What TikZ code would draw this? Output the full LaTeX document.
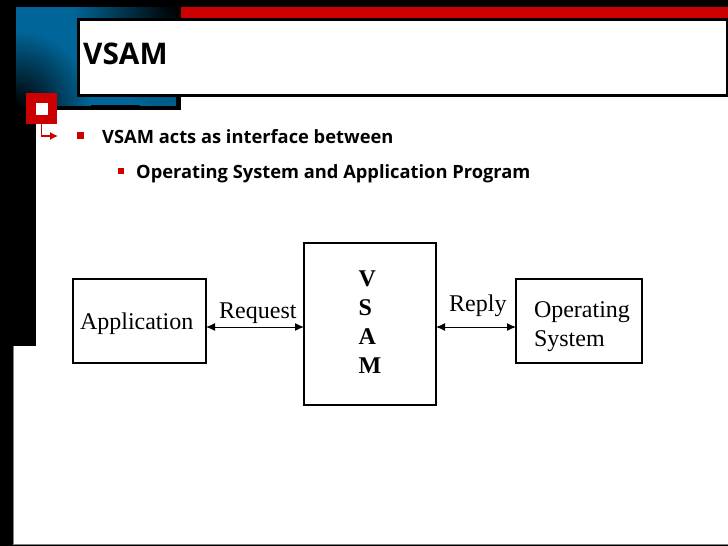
\documentclass[tikz,border=0pt]{standalone}
\usepackage{fontspec}
\setmainfont{Liberation Serif}
\newfontfamily\slidefont{Open Sans}
\usetikzlibrary{arrows.meta}
\definecolor{slidered}{HTML}{CC0000}
\definecolor{slideblue}{HTML}{006699}
\begin{document}
\begin{tikzpicture}[x=1pt, y=-1pt, >={Latex[length=9pt,width=8pt]}]
    \tikzstyle{block}=[draw, line width=1.2pt, outer sep=0pt, fill=white, minimum height=84pt, font=\fontsize{24}{29}\selectfont, align=left]
    \tikzstyle{edgetext}=[anchor=base west, inner sep=0pt, font=\fontsize{24}{29}\selectfont]
    \tikzstyle{bullettext}=[anchor=base west, inner sep=0pt, font=\slidefont\bfseries\fontsize{18.3}{20}\selectfont]
    \tikzstyle{bulletmark}=[fill=slidered, inner sep=0pt, minimum size=7pt]
    % slide background
    \useasboundingbox (0,0) rectangle (728,546);
    \fill[black] (0,0) rectangle (728,546);
    \fill[white] (181,97) -- (728,97) -- (728,544) -- (13,544) -- (13,346) -- (36,346) -- (36,110) -- (181,110) -- cycle;
    \draw[gray, line width=1pt] (13,346) -- (13,544) -- (728,544);
    \begin{scope}
        \clip (16,7) rectangle (176,105);
        \fill[slideblue] (16,7) rectangle (176,105);
        \shade[inner color=black, outer color=slideblue] (176,7) circle (105);
        \shade[inner color=black, outer color=slideblue] (16,105) circle (75);
    \end{scope}
    \fill[slidered] (181,7) rectangle (728,17.5);
    % title
    \node [draw, line width=3pt, outer sep=0pt, fill=white, anchor=north west, minimum width=649pt, minimum height=75.5pt, inner sep=0pt] (titlebox) at (78,19.5) {};
    \node [anchor=base west, inner sep=0pt, font=\slidefont\bfseries\fontsize{29.8}{32}\selectfont] (title) at (83,64) {VSAM};
    % corner marker
    \node [fill=slidered, minimum size=31pt, inner sep=0pt] (marker) at (41.5,108.5) {};
    \node [fill=white, minimum size=12pt, inner sep=0pt] (markerhole) at (41.5,108.5) {};
    \coordinate (markertip) at (58,136);
    \draw[slidered, line width=1.2pt, -{Latex[length=8pt,width=8pt]}] (marker.south) |- (markertip);
    % bullets
    \node [bulletmark] (bulletone) at (80.5,135) {};
    \node [bullettext] (textone) at (102,143.5) {VSAM acts as interface between};
    \node [bulletmark, minimum size=6pt] (bullettwo) at (120.5,171) {};
    \node [bullettext] (texttwo) at (136,178) {Operating System and Application Program};
    % diagram
    \node [block, minimum width=133pt, text width=119pt, inner xsep=7pt] (application) at (139.5,321) {\rule{0pt}{22pt}Application};
    \node [block, minimum width=132pt, minimum height=162pt] (vsam) at (370,324) {\textbf{V}\\\textbf{S}\\\textbf{A}\\\textbf{M}\rule[-3pt]{0pt}{3pt}};
    \node [block, minimum width=126pt, text width=90pt, inner xsep=18pt] (os) at (579,321) {\rule{0pt}{28pt}Operating\\System};
    \draw[<->, line width=1pt] ([yshift=-6pt]application.east) -- ([yshift=-3pt]vsam.west);
    \draw[<->, line width=1pt] ([yshift=-3pt]vsam.east) -- ([yshift=-6pt]os.west);
    \node [edgetext] (request) at (219,318) {Request};
    \node [edgetext] (reply) at (449,311) {Reply};
\end{tikzpicture}
\end{document}
